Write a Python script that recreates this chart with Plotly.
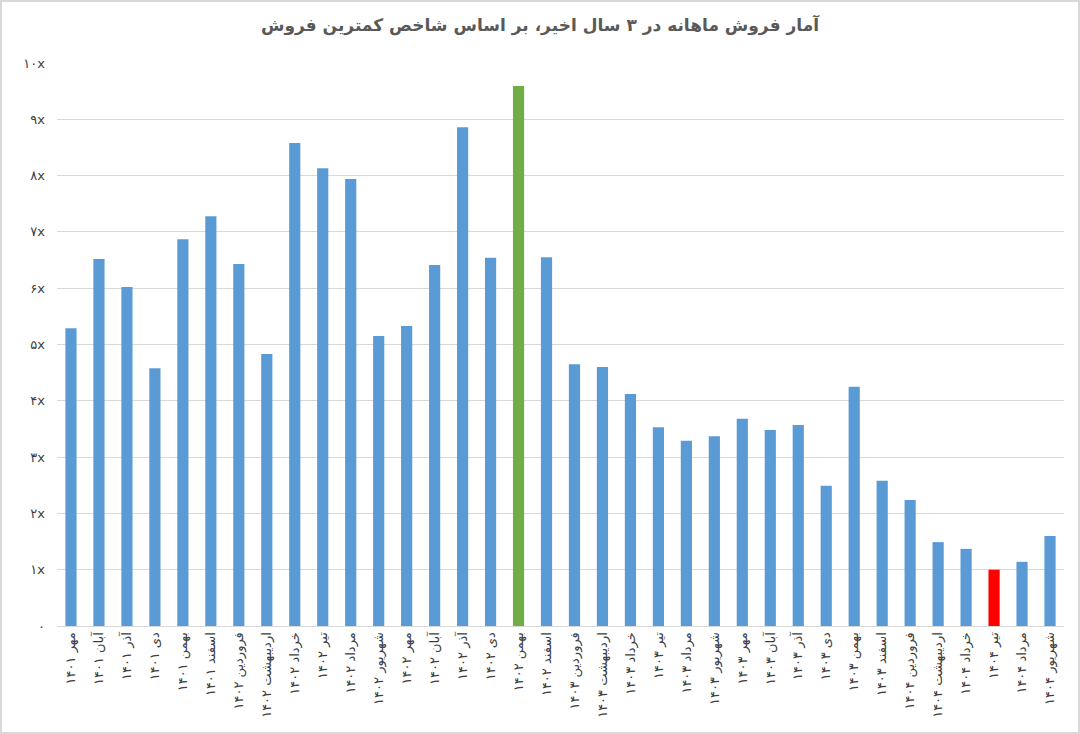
import plotly.graph_objects as go

months = ["فروردین", "اردیبهشت", "خرداد", "تیر", "مرداد", "شهریور",
          "مهر", "آبان", "آذر", "دی", "بهمن", "اسفند"]
years = ["۱۴۰۱"] * 6 + ["۱۴۰۲"] * 12 + ["۱۴۰۳"] * 12 + ["۱۴۰۴"] * 6
month_names = months[6:] + months + months + months[:6]
categories = [m + " " + y for m, y in zip(month_names, years)]

sales = [5.29, 6.52, 6.02, 4.58, 6.87, 7.28,
         6.43, 4.83, 8.58, 8.13, 7.94, 5.15,
         5.33, 6.41, 8.86, 6.54, 9.59, 6.55,
         4.65, 4.60, 4.12, 3.53, 3.29, 3.37,
         3.68, 3.48, 3.57, 2.49, 4.25, 2.58,
         2.24, 1.49, 1.37, 1.00, 1.14, 1.60]

tick_vals = list(range(11))
tick_text = ["۰", "۱x", "۲x", "۳x", "۴x", "۵x", "۶x", "۷x", "۸x", "۹x", "۱۰x"]

# highlight the max (green) and min (red)
top = max(sales)
low = min(sales)
colors = []
for v in sales:
    if v == top:
        colors.append("#70AD47")
    elif v == low:
        colors.append("#FF0000")
    else:
        colors.append("#5B9BD5")

fig = go.Figure(go.Bar(x=categories, y=sales, marker=dict(color=colors, line=dict(width=0)),
                       hoverinfo="x+y"))

fig.update_layout(
    width=1080, height=734,
    margin=dict(l=57, r=16, t=63, b=108),
    paper_bgcolor="white", plot_bgcolor="white",
    font=dict(family="DejaVu Sans, Noto Sans", color="#595959"),
    title=dict(text="<b>آمار فروش ماهانه در ۳ سال اخیر، بر اساس شاخص کمترین فروش</b>",
               x=0.5, xanchor="center", y=0.966, yanchor="middle",
               font=dict(size=17, color="#595959")),
    bargap=0.6,
    showlegend=False,
)
fig.update_xaxes(tickangle=-90, tickfont=dict(size=13, color="#404040"),
                 showline=True, linecolor="#D9D9D9", ticks="", automargin=False)
fig.update_yaxes(range=[0, 10], tickvals=tick_vals, ticktext=tick_text,
                 tickfont=dict(size=13, color="#404040"),
                 showgrid=True, gridcolor="#D9D9D9", zeroline=False, ticks="",
                 ticklabelstandoff=11, automargin=False)

# light frame round the chart area
fig.add_shape(type="rect", xref="paper", yref="paper",
              x0=-56 / 1007, x1=1 + 15 / 1007, y0=-107 / 563, y1=1 + 62 / 563,
              line=dict(color="#D9D9D9", width=2))

fig.write_html("out.html", config={"displayModeBar": False},
               post_script="document.body.style.margin='0';")
